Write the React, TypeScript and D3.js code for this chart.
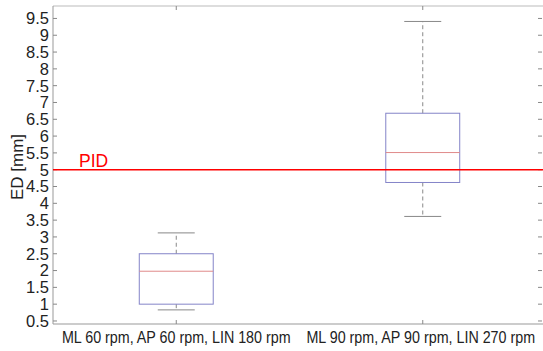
import React from 'react';
import * as d3 from 'd3';

// groups and box statistics
const groups = ['ML 60 rpm, AP 60 rpm, LIN 180 rpm', 'ML 90 rpm, AP 90 rpm, LIN 270 rpm'];
const lowerWhisker = [0.83, 3.61];
const q1 = [1.0, 4.62];
const median = [1.98, 5.51];
const q3 = [2.5, 6.68];
const upperWhisker = [3.12, 9.41];
const yTicks = [0.5, 1, 1.5, 2, 2.5, 3, 3.5, 4, 4.5, 5, 5.5, 6, 6.5, 7, 7.5, 8, 8.5, 9, 9.5];
const pidValue = 5;

const W = 543, H = 351;
const margin = { top: 6, right: -3, bottom: 27, left: 53 };

export default function App() {
  const left = margin.left, right = W - margin.right;
  const top = margin.top, bottom = H - margin.bottom;

  const x = d3.scaleLinear().domain([0.5, 2.5]).range([left, right]);
  const y = d3.scaleLinear().domain([0.41, 9.87]).range([bottom, top]);
  const boxW = x(1.3) - x(1);
  const capW = boxW / 2;
  const font = 'Liberation Sans, Arial, Helvetica, sans-serif';

  return (
    <svg width={W} height={H} style={{ position: 'absolute', left: 0, top: 0, background: '#fff' }}>
      {/* frame */}
      <line x1={left} x2={right} y1={top} y2={top} stroke="#bbb" />
      <line x1={left} x2={right} y1={bottom} y2={bottom} stroke="#999" />
      <line x1={left} x2={left} y1={top} y2={bottom} stroke="#999" />

      {/* y ticks */}
      {yTicks.map(t => (
        <g key={t}>
          <line x1={left} x2={left + 4} y1={y(t)} y2={y(t)} stroke="#888" />
          <line x1={W - 5} x2={W - 1} y1={y(t)} y2={y(t)} stroke="#888" />
          <text x={left - 4} y={y(t)} dy="0.36em" textAnchor="end" fontSize={16.5} fontFamily={font} fill="#222">{t}</text>
        </g>
      ))}

      {/* x ticks */}
      {groups.map((g, i) => (
        <g key={g}>
          <line x1={x(i + 1)} x2={x(i + 1)} y1={bottom} y2={bottom - 4} stroke="#888" />
          <line x1={x(i + 1)} x2={x(i + 1)} y1={top} y2={top + 4} stroke="#888" />
          <text transform={`translate(${x(i + 1) - (i === 1 ? 2 : 0)},${bottom + 19}) scale(1,1.1)`}
            textAnchor="middle" fontSize={14.3} fontFamily={font} fill="#222">{g}</text>
        </g>
      ))}

      {/* boxes */}
      {groups.map((g, i) => {
        const cx = x(i + 1);
        return (
          <g key={'box' + i}>
            <line x1={cx} x2={cx} y1={y(q3[i])} y2={y(upperWhisker[i])} stroke="#888" strokeDasharray="4,3" />
            <line x1={cx} x2={cx} y1={y(q1[i])} y2={y(lowerWhisker[i])} stroke="#888" strokeDasharray="4,3" />
            <line x1={cx - capW / 2} x2={cx + capW / 2} y1={y(upperWhisker[i])} y2={y(upperWhisker[i])} stroke="#888" />
            <line x1={cx - capW / 2} x2={cx + capW / 2} y1={y(lowerWhisker[i])} y2={y(lowerWhisker[i])} stroke="#888" />
            <rect x={cx - boxW / 2} y={y(q3[i])} width={boxW} height={y(q1[i]) - y(q3[i])} fill="none" stroke="#8484c8" />
            <line x1={cx - boxW / 2} x2={cx + boxW / 2} y1={y(median[i])} y2={y(median[i])} stroke="#e08a8a" />
          </g>
        );
      })}

      {/* PID threshold */}
      <line x1={left} x2={W} y1={y(pidValue)} y2={y(pidValue)} stroke="#ff0000" strokeWidth={1.5} />
      <text x={79} y={y(pidValue) - 3} fontSize={17.5} fontFamily={font} fill="#ff0000">PID</text>

      {/* y label */}
      <text transform="translate(23,167) rotate(-90)" textAnchor="middle" fontSize={17} fontFamily={font} fill="#222">ED [mm]</text>
    </svg>
  );
}
